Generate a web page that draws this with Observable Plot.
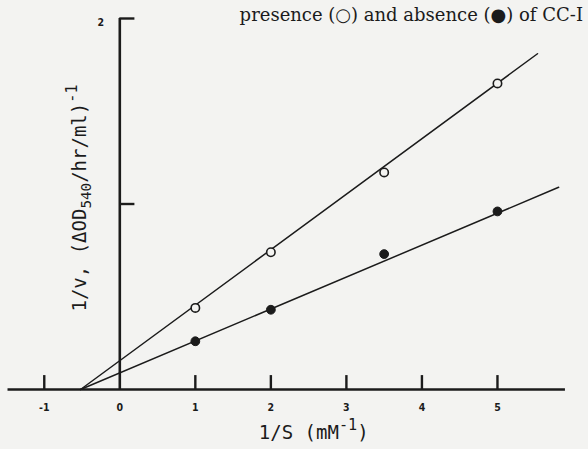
<!DOCTYPE html>
<html>
<head>
<meta charset="utf-8">
<script src="https://cdn.jsdelivr.net/npm/d3@7"></script>
<script src="https://cdn.jsdelivr.net/npm/@observablehq/plot@0.6"></script>
<style>
  html, body { margin: 0; padding: 0; background: #f3f3f1; }
  #chart { width: 588px; height: 449px; overflow: hidden; }
</style>
</head>
<body>
<div id="chart"></div>
<script>
// ---- data ----
const invSubstrate = [1, 2, 3.5, 5];              // 1/S (mM^-1)
const presenceVals = [0.44, 0.74, 1.17, 1.65];    // open circles
const absenceVals  = [0.26, 0.43, 0.73, 0.96];    // filled circles
const presenceLineX = [-0.52, 5.53];
const presenceLineY = [0, 1.81];
const absenceLineX  = [-0.52, 5.81];
const absenceLineY  = [0, 1.09];
const xTickValues = [-1, 1, 2, 3, 4, 5];
const xTickLabels = [-1, 0, 1, 2, 3, 4, 5];
const yTickValues = [1, 2];
const yTickLabels = [2];
const titleText = "presence (\u25CB) and absence (\u25CF) of CC-I";
const xLabelText = "1/S (mM-1)";
const yLabelText = "1/v, (\u0394OD540/hr/ml)-1";

const ink = "#1b1b1b";
const presence = invSubstrate.map((x, i) => ({x, y: presenceVals[i]}));
const absence = invSubstrate.map((x, i) => ({x, y: absenceVals[i]}));
const presenceLine = presenceLineX.map((x, i) => ({x, y: presenceLineY[i]}));
const absenceLine = absenceLineX.map((x, i) => ({x, y: absenceLineY[i]}));

const chart = Plot.plot({
  width: 588,
  height: 449,
  marginLeft: 6,
  marginRight: 15.5,
  marginTop: 18,
  marginBottom: 60,
  style: {background: "transparent", color: ink},
  x: {domain: [-1.5, 6], axis: null},
  y: {domain: [0, 2], axis: null},
  marks: [
    // axes
    Plot.ruleY([0], {x1: -1.48, x2: 5.9, stroke: ink, strokeWidth: 2.6}),
    Plot.ruleX([0], {y1: 0, y2: 2, stroke: ink, strokeWidth: 2.6}),
    Plot.ruleX(xTickValues, {x: d => d, y1: 0, y2: 0.075, stroke: ink, strokeWidth: 2.4}),
    Plot.ruleY(yTickValues, {y: d => d, x1: 0, x2: 0.2, stroke: ink, strokeWidth: 2.4}),
    Plot.text(xTickLabels, {x: d => d, y: 0, text: d => String(d), dy: 18,
      fontSize: 10.5, fontWeight: "bold", fontFamily: "DejaVu Sans Condensed, DejaVu Sans", fill: ink}),
    Plot.text(yTickLabels, {x: 0, y: d => d, text: d => String(d), dx: -19, dy: 4,
      fontSize: 10.5, fontWeight: "bold", fontFamily: "DejaVu Sans Condensed, DejaVu Sans", fill: ink}),
    // fitted lines
    Plot.line(presenceLine, {x: "x", y: "y", stroke: ink, strokeWidth: 1.5}),
    Plot.line(absenceLine, {x: "x", y: "y", stroke: ink, strokeWidth: 1.5}),
    // points
    Plot.dot(presence, {x: "x", y: "y", r: 4.2, fill: "#f3f3f1", stroke: ink, strokeWidth: 1.6}),
    Plot.dot(absence, {x: "x", y: "y", r: 4.4, fill: ink, stroke: ink, strokeWidth: 1}),
    // labels
    Plot.text([xLabelText], {frameAnchor: "bottom", text: d => d, textAnchor: "middle", lineAnchor: "middle",
      dx: 24, dy: 43, fontSize: 19, fontFamily: "DejaVu Sans Mono", fill: ink}),
    Plot.text([yLabelText], {frameAnchor: "left", text: d => d, textAnchor: "middle", lineAnchor: "middle",
      rotate: -90, dx: 73, dy: -6, fontSize: 19, fontFamily: "DejaVu Sans Mono", fill: ink}),
    Plot.text([titleText], {frameAnchor: "top-right", text: d => d, textAnchor: "end", lineAnchor: "middle",
      dx: 10, dy: -3, fontSize: 18, fontFamily: "DejaVu Serif", fill: ink})
  ]
});
document.getElementById("chart").appendChild(chart);

// rich text: superscripts and subscripts in the axis labels
d3.select(chart).selectAll("text").each(function() {
  const t = d3.select(this);
  const s = this.textContent;
  if (s === xLabelText) {
    t.text(null);
    t.append("tspan").text("1/S (mM");
    t.append("tspan").attr("dy", "-0.55em").attr("font-size", "0.8em").text("-1");
    t.append("tspan").attr("dy", "0.44em").text(")");
  } else if (s === yLabelText) {
    t.text(null);
    t.append("tspan").text("1/v, (\u0394OD");
    t.append("tspan").attr("dy", "0.35em").attr("font-size", "0.75em").text("540");
    t.append("tspan").attr("dy", "-0.26em").text("/hr/ml)");
    t.append("tspan").attr("dy", "-0.55em").attr("font-size", "0.8em").text("-1");
  }
});
</script>
</body>
</html>
